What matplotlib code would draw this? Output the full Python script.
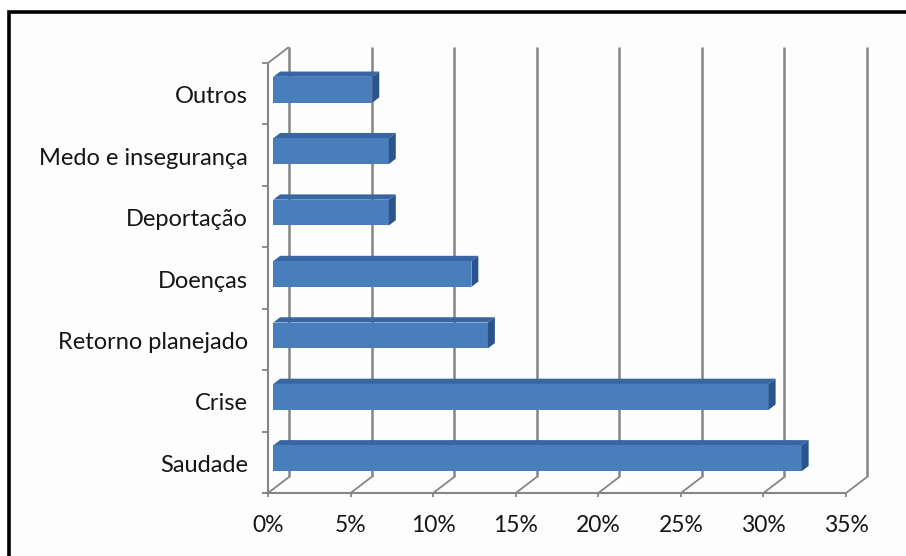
import matplotlib.pyplot as plt
from matplotlib.patches import Polygon, Rectangle

# categories from bottom to top, values in percent
categorias = ['Saudade', 'Crise', 'Retorno planejado', 'Doenças',
              'Deportação', 'Medo e insegurança', 'Outros']
valores = [32, 30, 13, 12, 7, 7, 6]
ticks_x = [0, 5, 10, 15, 20, 25, 30, 35]
rotulos_x = ['0%', '5%', '10%', '15%', '20%', '25%', '30%', '35%']

plt.rcParams['font.family'] = ['Lato', 'DejaVu Sans']

W, H = 906, 556
fig = plt.figure(figsize=(W / 100, H / 100), dpi=100)
fig.patch.set_facecolor('white')

# moldura preta em volta do grafico
fig.patches.append(Rectangle((9 / W, -20 / H), 1, (H - 12 + 20) / H,
                             transform=fig.transFigure, facecolor='#fdfdfd',
                             edgecolor='black', linewidth=2.6, clip_on=False,
                             zorder=-5))

# plano frontal do grafico 3D
x0, x1, ytop, ybot = 268, 846, 63, 493
ax = fig.add_axes([x0 / W, (H - ybot) / H, (x1 - x0) / W, (ybot - ytop) / H])
ax.set_xlim(0, 35)
ax.set_ylim(-0.5, 6.5)
ax.axis('off')

# deslocamento da profundidade (fundo) em unidades de dados
DX = 21 / ((x1 - x0) / 35)
DY = 16 / ((ybot - ytop) / 7)

def pt(x, y, f):
    return (x + f * DX, y + f * DY)

cinza = '#858585'
kw = dict(color=cinza, clip_on=False, solid_capstyle='butt')

# linhas de grade na parede do fundo e diagonais do piso
for t in ticks_x:
    a, b = pt(t, -0.5, 1), pt(t, 6.5, 1)
    ax.plot([a[0], b[0]], [a[1], b[1]], lw=1.8, zorder=1, **kw)
    c = pt(t, -0.5, 0)
    ax.plot([c[0], a[0]], [c[1], a[1]], lw=1.3, zorder=1, **kw)

# piso frontal e parede esquerda
ax.plot([-0.35, 35], [-0.5, -0.5], lw=1.5, zorder=1, **kw)
ax.plot([0, 0], [-0.5, 6.5], lw=1.5, zorder=1, **kw)
a, b = pt(0, 6.5, 0), pt(0, 6.5, 1)
ax.plot([a[0], b[0]], [a[1], b[1]], lw=1.3, zorder=1, **kw)

# marcas dos eixos
for t in ticks_x:
    ax.plot([t, t], [-0.5, -0.5 - 0.07], lw=1.3, zorder=1, **kw)
for k in range(8):
    ax.plot([-0.35, 0], [k - 0.5, k - 0.5], lw=1.3, zorder=1, **kw)

# barras 3D
f1, f2 = 0.25, 0.58
h = 0.42
frente, topo, lado = '#4a7dbc', '#3766a3', '#2b548d'
for i, v in enumerate(valores):
    yb, yt = i - h / 2, i + h / 2
    face = [pt(0, yb, f1), pt(v, yb, f1), pt(v, yt, f1), pt(0, yt, f1)]
    cima = [pt(0, yt, f1), pt(v, yt, f1), pt(v, yt, f2), pt(0, yt, f2)]
    fim = [pt(v, yb, f1), pt(v, yb, f2), pt(v, yt, f2), pt(v, yt, f1)]
    ax.add_patch(Polygon(cima, closed=True, facecolor=topo, edgecolor='none',
                         zorder=3, clip_on=False))
    ax.add_patch(Polygon(face, closed=True, facecolor=frente, edgecolor='none',
                         zorder=3, clip_on=False))
    ax.add_patch(Polygon(fim, closed=True, facecolor=lado, edgecolor='none',
                         zorder=3, clip_on=False))

# rotulos
for i, nome in enumerate(categorias):
    ax.annotate(nome, xy=(0, i), xytext=(-20 * 0.72, -3 * 0.72),
                textcoords='offset points', ha='right', va='center',
                fontsize=17, color='#151515', annotation_clip=False)
for t, r in zip(ticks_x, rotulos_x):
    ax.annotate(r, xy=(t, -0.5), xytext=(0, -32 * 0.72),
                textcoords='offset points', ha='center', va='center',
                fontsize=16.5, color='#151515', annotation_clip=False)

fig.savefig('out.png', dpi=100)
